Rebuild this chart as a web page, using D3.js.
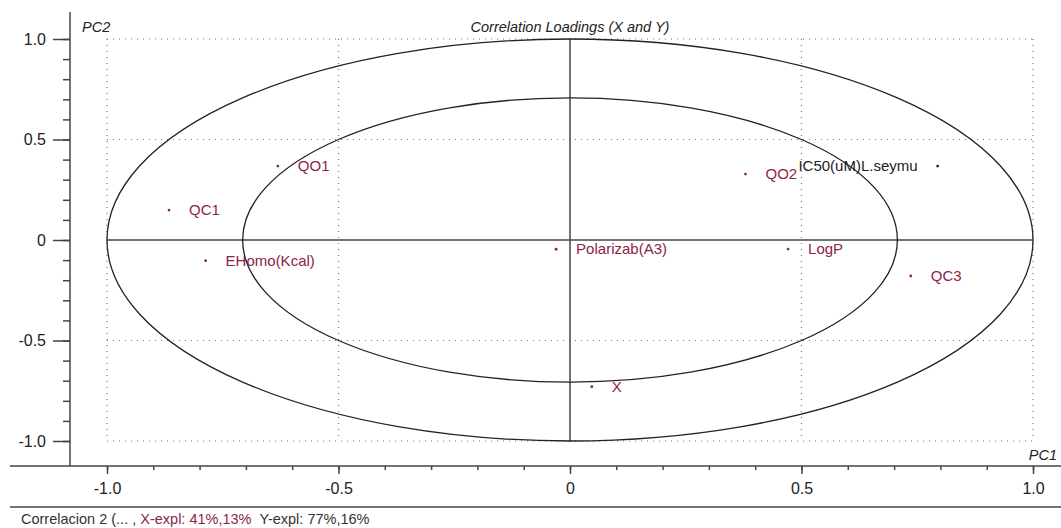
<!DOCTYPE html>
<html>
<head>
<meta charset="utf-8">
<script src="https://cdn.jsdelivr.net/npm/d3@7"></script>
<style>
  body { margin: 0; background: #fff; }
  svg { display: block; font-family: "Liberation Sans", Arial, sans-serif; }
</style>
</head>
<body>
<div id="chart"></div>
<script>
// loadings
var varNames = ["QO1", "QC1", "EHomo(Kcal)", "Polarizab(A3)", "QO2", "LogP", "IC50(uM)L.seymu", "QC3", "X"];
var pc1 = [-0.631, -0.866, -0.787, -0.030, 0.379, 0.471, 0.794, 0.736, 0.047];
var pc2 = [0.368, 0.149, -0.103, -0.046, 0.328, -0.045, 0.368, -0.179, -0.730];
var varBlock = ["X", "X", "X", "X", "X", "X", "Y", "X", "X"];

var majorTicks = [-1.0, -0.5, 0, 0.5, 1.0];
var minorTicks = d3.range(-10, 11).map(function(i) { return i / 10; });
var circleRadii = [1, Math.sqrt(0.5)];

var width = 1061, height = 528;

var svg = d3.select("#chart").append("svg")
    .attr("width", width)
    .attr("height", height);

var x = d3.scaleLinear().domain([-1, 1]).range([107, 1033]);
var y = d3.scaleLinear().domain([-1, 1]).range([441, 39]);

var labelRed = "#8c2448";

function tickFmt(d) {
    return d === 0 ? "0" : d.toFixed(1);   // plain hyphen, not unicode minus
}

// dotted grid
var gridVals = [-1, -0.5, 0.5, 1];
svg.selectAll("line.vgrid").data(gridVals).enter()
    .append("line")
    .attr("x1", function(d) { return x(d); })
    .attr("x2", function(d) { return x(d); })
    .attr("y1", y(1)).attr("y2", y(-1))
    .attr("stroke", "#777")
    .attr("stroke-width", 1.2)
    .attr("stroke-dasharray", "1,5");
svg.selectAll("line.hgrid").data(gridVals).enter()
    .append("line")
    .attr("y1", function(d) { return y(d); })
    .attr("y2", function(d) { return y(d); })
    .attr("x1", x(-1)).attr("x2", x(1))
    .attr("stroke", "#777")
    .attr("stroke-width", 1.2)
    .attr("stroke-dasharray", "1,5");

// zero lines
svg.append("line")
    .attr("x1", x(-1)).attr("x2", x(1))
    .attr("y1", y(0)).attr("y2", y(0))
    .attr("stroke", "#444").attr("stroke-width", 1.5);
svg.append("line")
    .attr("x1", x(0)).attr("x2", x(0))
    .attr("y1", y(1)).attr("y2", y(-1))
    .attr("stroke", "#444").attr("stroke-width", 1.5);

// correlation ellipses (100% and 50% explained variance)
svg.selectAll("ellipse").data(circleRadii).enter()
    .append("ellipse")
    .attr("cx", x(0))
    .attr("cy", y(0))
    .attr("rx", function(d) { return x(d) - x(0); })
    .attr("ry", function(d) { return y(0) - y(d); })
    .attr("fill", "none")
    .attr("stroke", "#222")
    .attr("stroke-width", 1.3);

// axes
var axisColor = "#444";
var yMinor = svg.append("g")
    .attr("transform", "translate(70,0)")
    .call(d3.axisLeft(y).tickValues(minorTicks).tickSize(7).tickFormat(""));
var yMajor = svg.append("g")
    .attr("transform", "translate(70,0)")
    .call(d3.axisLeft(y).tickValues(majorTicks).tickSize(17).tickPadding(7).tickFormat(tickFmt));
var xMinor = svg.append("g")
    .attr("transform", "translate(0,466)")
    .call(d3.axisBottom(x).tickValues(minorTicks).tickSize(4).tickFormat(""));
var xMajor = svg.append("g")
    .attr("transform", "translate(0,466)")
    .call(d3.axisBottom(x).tickValues(majorTicks).tickSize(8).tickPadding(9).tickFormat(tickFmt));

[yMinor, yMajor, xMinor, xMajor].forEach(function(g) {
    g.select(".domain").remove();
    g.selectAll("line").attr("stroke", axisColor).attr("stroke-width", 1.5);
    g.selectAll("text")
        .attr("fill", "#222")
        .attr("font-size", "16px")
        .attr("font-family", "Liberation Sans, Arial, sans-serif");
});

// axis lines
svg.append("line")
    .attr("x1", 70).attr("x2", 70)
    .attr("y1", 12).attr("y2", 466)
    .attr("stroke", axisColor).attr("stroke-width", 1.5);
svg.append("line")
    .attr("x1", 10).attr("x2", width)
    .attr("y1", 466).attr("y2", 466)
    .attr("stroke", axisColor).attr("stroke-width", 1.5);
svg.append("line")
    .attr("x1", 10).attr("x2", width)
    .attr("y1", 507).attr("y2", 507)
    .attr("stroke", axisColor).attr("stroke-width", 1.5);

// axis names and title
svg.append("text")
    .attr("x", 82).attr("y", 32)
    .attr("font-style", "italic").attr("font-size", "14.5px").attr("fill", "#222")
    .text("PC2");
svg.append("text")
    .attr("x", 1057).attr("y", 460)
    .attr("text-anchor", "end")
    .attr("font-style", "italic").attr("font-size", "14.5px").attr("fill", "#222")
    .text("PC1");
svg.append("text")
    .attr("x", x(0)).attr("y", 32)
    .attr("text-anchor", "middle")
    .attr("font-style", "italic").attr("font-size", "14.5px").attr("fill", "#222")
    .text("Correlation Loadings (X and Y)");

// points
svg.selectAll("circle.pt").data(varNames).enter()
    .append("circle")
    .attr("class", "pt")
    .attr("cx", function(d, i) { return x(pc1[i]); })
    .attr("cy", function(d, i) { return y(pc2[i]); })
    .attr("r", 1.4)
    .attr("fill", function(d, i) { return varBlock[i] === "Y" ? "#222" : labelRed; });

svg.selectAll("text.lbl").data(varNames).enter()
    .append("text")
    .attr("class", "lbl")
    .attr("x", function(d, i) { return x(pc1[i]) + (varBlock[i] === "Y" ? -20 : 20); })
    .attr("y", function(d, i) { return y(pc2[i]) + 5; })
    .attr("text-anchor", function(d, i) { return varBlock[i] === "Y" ? "end" : "start"; })
    .attr("font-size", "15px")
    .attr("fill", function(d, i) { return varBlock[i] === "Y" ? "#222" : labelRed; })
    .text(function(d) { return d; });

// footer
var footer = svg.append("text")
    .attr("x", 21).attr("y", 524)
    .attr("font-size", "14.5px")
    .attr("fill", "#333");
footer.append("tspan").text("Correlacion 2 (... , ");
footer.append("tspan").attr("fill", labelRed).text("X-expl: 41%,13%");
footer.append("tspan").text("\u00a0\u00a0Y-expl: 77%,16%");
</script>
</body>
</html>
